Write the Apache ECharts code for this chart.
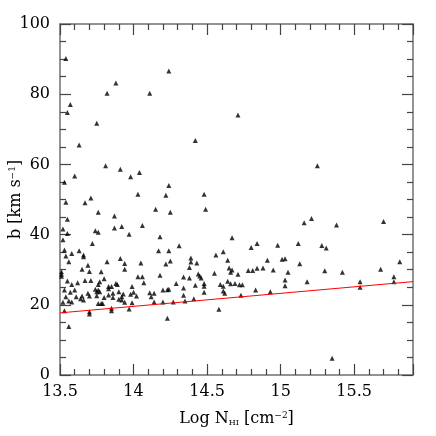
<!DOCTYPE html>
<html>
<head>
<meta charset="utf-8">
<script src="https://cdn.jsdelivr.net/npm/echarts@6/dist/echarts.min.js"></script>
<style>
  html, body { margin: 0; padding: 0; background: #fff; }
  #chart { width: 436px; height: 436px; }
</style>
</head>
<body>
<div id="chart"></div>
<script>
// column density (log N_HI) of each absorber
var logN = [
  13.54, 14.24, 13.88, 13.82, 14.11, 13.57, 13.55, 13.75, 14.71,
  13.63, 13.81, 13.91, 14.04, 13.60, 13.98, 13.53, 14.24, 14.03, 14.22, 13.71,
  13.67, 13.54, 13.76, 14.15, 14.25, 13.87, 13.55, 14.06, 13.52, 13.74,
  13.76, 13.87, 13.92, 13.55, 13.97, 14.18, 13.52, 13.72,
  14.42, 14.48, 14.49, 14.67, 14.31, 14.84, 14.80, 14.98,
  15.25, 15.21, 15.16, 15.38, 15.70, 15.12, 15.28, 15.31,
  15.03, 15.13, 15.05, 15.30, 15.42, 15.68, 15.81, 15.77, 15.77, 15.03,
  15.03, 15.18, 15.54, 15.54, 15.35,
  14.24, 14.56, 14.61, 14.39, 14.39, 14.43, 14.25, 14.64, 14.91, 15.01,
  14.65, 14.38, 14.67, 14.66, 14.78, 14.81, 14.84, 14.88, 14.95, 14.55,
  14.44, 14.45, 14.71, 14.34, 14.38, 14.46, 14.29, 14.48, 14.48, 14.42,
  14.64, 14.59, 14.61, 14.66, 14.69, 14.72, 14.74, 14.61, 14.62, 14.34,
  14.24, 14.48, 14.34, 14.83, 14.93, 14.73, 14.41, 14.35, 14.27, 14.58, 14.23,
  13.53, 13.63, 13.66, 13.66, 13.54, 13.58, 13.56, 13.82, 13.91, 13.94,
  13.94, 14.05, 14.17, 14.22, 13.69, 13.65, 13.70, 13.51, 13.51, 13.51,
  13.78, 14.18, 14.03, 14.06, 13.55, 14.07, 13.80, 13.62, 13.67, 13.71,
  13.77, 13.76, 13.58, 13.83, 13.85, 13.88, 13.89, 13.83, 13.99, 13.74,
  13.75, 13.76, 13.77, 13.53, 13.60, 13.57, 13.90, 13.86, 13.93, 14.00,
  14.11, 14.20, 13.69, 13.65, 13.61, 13.70, 13.54, 13.75, 13.80, 13.83,
  13.86, 13.92, 13.98, 14.02, 14.12, 14.14, 14.23, 13.64, 13.66, 13.90,
  13.92, 13.52, 13.56, 13.58, 13.76, 13.78, 13.79, 13.99, 13.94, 14.14,
  14.20, 13.85, 13.85, 13.70, 13.70, 13.97, 13.53, 13.56
];
// Doppler parameter b (km/s), same order
var bParam = [
  90.2, 86.6, 83.2, 80.3, 80.3, 77.1, 74.8, 71.7, 74.1,
  65.5, 59.6, 58.6, 57.7, 56.7, 56.5, 54.9, 54.0, 51.5, 51.2, 50.4,
  49.1, 49.2, 46.4, 47.2, 46.4, 45.3, 44.4, 42.6, 41.6, 41.1,
  40.7, 41.9, 42.3, 40.3, 40.1, 39.4, 38.5, 37.5,
  66.8, 51.5, 47.2, 39.1, 36.8, 37.5, 36.3, 37.0,
  59.6, 44.6, 43.4, 42.7, 43.7, 37.5, 36.9, 36.2,
  33.1, 31.7, 29.3, 29.7, 29.3, 30.1, 32.3, 28.0, 26.6, 27.1,
  25.4, 26.6, 26.6, 25.0, 4.8,
  35.4, 34.2, 35.1, 33.3, 32.2, 31.9, 32.5, 32.7, 32.7, 33.0,
  30.5, 30.6, 29.9, 29.3, 29.8, 29.8, 30.4, 30.5, 29.9, 29.0,
  28.8, 28.2, 28.7, 27.9, 27.6, 27.6, 26.1, 26.1, 25.3, 25.6,
  26.7, 25.8, 25.3, 26.0, 26.1, 25.7, 25.7, 23.9, 23.3, 24.8,
  24.4, 23.6, 22.7, 24.2, 23.7, 22.7, 21.7, 21.1, 20.8, 18.7, 16.2,
  35.6, 35.4, 34.2, 33.7, 33.9, 34.6, 32.3, 32.3, 33.2, 31.8,
  30.1, 31.9, 35.4, 31.6, 31.3, 30.1, 29.5, 29.4, 28.7, 28.1,
  29.4, 28.4, 28.0, 28.0, 26.8, 26.3, 27.4, 26.3, 26.9, 26.9,
  26.6, 25.8, 25.8, 25.2, 25.2, 26.1, 25.8, 24.6, 25.2, 24.4,
  23.7, 24.2, 23.7, 24.2, 24.2, 23.6, 23.7, 23.3, 23.1, 23.6,
  23.4, 24.2, 23.3, 22.5, 22.3, 22.5, 22.3, 22.6, 22.1, 22.8,
  22.1, 22.3, 23.0, 22.5, 22.3, 23.3, 24.3, 21.7, 21.4, 21.6,
  21.4, 20.7, 21.1, 20.8, 20.4, 20.4, 20.4, 20.6, 20.7, 20.8,
  20.8, 19.0, 18.3, 18.0, 17.4, 18.8, 18.3, 13.8
];
// lower cut-off line (two end points)
var cutX = [13.5, 15.9];
var cutB = [17.7, 26.6];

var points = logN.map(function (x, i) { return [x, bParam[i]]; });
var cutLine = cutX.map(function (x, i) { return [x, cutB[i]]; });

var font = 'DejaVu Serif';
var frame = { show: true, onZero: false, lineStyle: { color: '#707070', width: 1.5 } };
var tick = { show: true, inside: true, length: 11, lineStyle: { color: '#444', width: 1.2 } };
var minor = function (n) {
    return { show: true, splitNumber: n, length: 6, lineStyle: { color: '#444', width: 1.2 } };
};

var option = {
    animation: false,
    backgroundColor: '#fff',
    grid: { left: 60, right: 23, top: 24, bottom: 61, containLabel: false, outerBoundsMode: 'none' },
    xAxis: [{
        type: 'value', min: 13.5, max: 15.9, interval: 0.5,
        axisLine: frame, axisTick: tick, minorTick: minor(5),
        splitLine: { show: false },
        axisLabel: { color: '#000', fontFamily: font, fontSize: 16, margin: 9,
            showMaxLabel: false },
        name: 'Log N{sub|HI} [cm{sup|−2}]',
        nameLocation: 'middle', nameGap: 36, nameMoveOverlap: false,
        nameTextStyle: {
            color: '#000', fontFamily: font, fontSize: 16,
            rich: {
                sub: { fontFamily: font, fontSize: 8, verticalAlign: 'bottom', padding: [8, 0, 0, 0] },
                sup: { fontFamily: font, fontSize: 9, verticalAlign: 'top', padding: [0, 0, 6, 0] }
            }
        }
    }, {
        type: 'value', position: 'top', min: 13.5, max: 15.9, interval: 0.5,
        axisLine: frame, axisTick: tick, minorTick: minor(5),
        splitLine: { show: false }, axisLabel: { show: false }
    }],
    yAxis: [{
        type: 'value', min: 0, max: 100, interval: 20,
        axisLine: frame, axisTick: tick, minorTick: minor(4),
        splitLine: { show: false },
        axisLabel: { color: '#000', fontFamily: font, fontSize: 16, margin: 10 },
        name: 'b [km s{sup|−1}]',
        nameLocation: 'middle', nameGap: 36, nameRotate: 90, nameMoveOverlap: false,
        nameTextStyle: {
            color: '#000', fontFamily: font, fontSize: 16,
            rich: {
                sup: { fontFamily: font, fontSize: 9, verticalAlign: 'top', padding: [0, 0, 6, 0] }
            }
        }
    }, {
        type: 'value', position: 'right', min: 0, max: 100, interval: 20,
        axisLine: frame, axisTick: tick, minorTick: minor(4),
        splitLine: { show: false }, axisLabel: { show: false }
    }],
    series: [{
        type: 'scatter',
        data: points,
        symbol: 'triangle',
        symbolSize: [5, 5],
        itemStyle: { color: '#000' }
    }, {
        type: 'line',
        data: cutLine,
        symbol: 'none',
        lineStyle: { color: '#ff0000', width: 1 },
        z: 3
    }]
};

var chart = echarts.init(document.getElementById('chart'));
chart.setOption(option);
</script>
</body>
</html>
